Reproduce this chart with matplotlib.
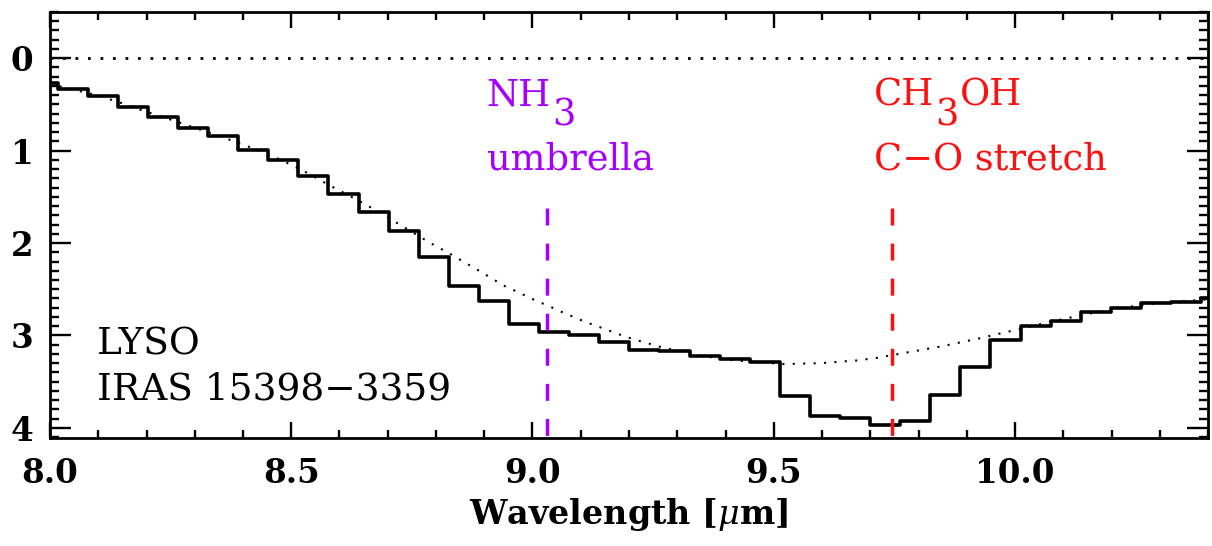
import matplotlib
matplotlib.use("Agg")
import matplotlib.pyplot as plt
from matplotlib.ticker import MultipleLocator, FormatStrFormatter

plt.rcParams['font.family'] = ['DejaVu Serif']
plt.rcParams['mathtext.fontset'] = 'dejavuserif'

# Optical depth spectrum (bin centres in micron, binned depth)
wave = [7.985, 8.047, 8.110, 8.172, 8.234, 8.297, 8.359, 8.421, 8.484, 8.546,
        8.608, 8.671, 8.733, 8.796, 8.858, 8.920, 8.983, 9.045, 9.107, 9.170,
        9.232, 9.294, 9.357, 9.419, 9.481, 9.544, 9.606, 9.668, 9.731, 9.793,
        9.855, 9.918, 9.980, 10.043, 10.105, 10.167, 10.230, 10.292, 10.354, 10.417]
depth = [0.27, 0.33, 0.41, 0.53, 0.64, 0.75, 0.845, 0.99, 1.10, 1.28,
         1.47, 1.66, 1.87, 2.15, 2.46, 2.63, 2.88, 2.96, 2.99, 3.07,
         3.16, 3.17, 3.22, 3.26, 3.29, 3.66, 3.87, 3.89, 3.97, 3.93,
         3.64, 3.34, 3.05, 2.90, 2.84, 2.75, 2.70, 2.65, 2.64, 2.60]

# Continuum / silicate model (dotted curve)
cont_wave = [8.000, 8.024, 8.097, 8.145, 8.194, 8.242, 8.287, 8.339, 8.408, 8.474,
             8.522, 8.588, 8.650, 8.699, 8.750, 8.785, 8.830, 8.899, 8.940, 8.965,
             9.010, 9.033, 9.058, 9.103, 9.196, 9.269, 9.349, 9.418, 9.521, 9.598,
             9.674, 9.718, 9.770, 9.846, 9.919, 9.985, 10.019, 10.075, 10.158, 10.220,
             10.282, 10.344, 10.402]
cont_depth = [0.26, 0.31, 0.40, 0.48, 0.57, 0.65, 0.73, 0.82, 0.95, 1.09,
              1.21, 1.40, 1.57, 1.72, 1.88, 1.99, 2.12, 2.33, 2.46, 2.52,
              2.63, 2.68, 2.74, 2.84, 3.02, 3.13, 3.22, 3.27, 3.31, 3.30,
              3.27, 3.24, 3.19, 3.12, 3.04, 2.96, 2.92, 2.85, 2.76, 2.70,
              2.66, 2.63, 2.61]

# Ice feature markers
NH3_WAVE = 9.03
CH3OH_WAVE = 9.745
MARK_TOP = 1.62

XMIN, XMAX = 8.0, 10.4
YTOP, YBOT = -0.5, 4.11

PURPLE = '#A500FF'
RED = '#FF1010'

fig = plt.figure(figsize=(12.12, 5.46), dpi=100)
ax = fig.add_axes([50 / 1212, 108 / 546, 1158 / 1212, 426 / 546])

ax.step(wave, depth, where='mid', color='black', lw=2.6)
ax.plot(cont_wave, cont_depth, color='black', lw=1.5, ls=(0, (1, 4)))
ax.axhline(0, color='black', lw=2.0, ls=(0, (1, 3.5)))

ax.vlines(NH3_WAVE, MARK_TOP, YBOT, color=PURPLE, lw=2.5, linestyles=[(0, (4.9, 5.2))])
ax.vlines(CH3OH_WAVE, MARK_TOP, YBOT, color=RED, lw=2.5, linestyles=[(0, (4.9, 5.2))])

ax.set_xlim(XMIN, XMAX)
ax.set_ylim(YBOT, YTOP)

# labels for the features; subscripts drawn at full size like the original
fs = 26.5
t_nh = ax.text(8.905, 0.515, 'NH', color=PURPLE, fontsize=fs, va='baseline')
ax.annotate('3', xy=(1, 0), xycoords=t_nh, xytext=(1, -20), textcoords='offset pixels',
            color=PURPLE, fontsize=fs, va='bottom', ha='left')
ax.text(8.905, 1.208, 'umbrella', color=PURPLE, fontsize=fs, va='baseline')

t_ch = ax.text(9.707, 0.515, 'CH', color=RED, fontsize=fs, va='baseline')
t_3 = ax.annotate('3', xy=(1, 0), xycoords=t_ch, xytext=(1, -20), textcoords='offset pixels',
                  color=RED, fontsize=fs, va='bottom', ha='left')
ax.annotate('OH', xy=(1, 0), xycoords=(t_3, t_ch), xytext=(2, 0), textcoords='offset pixels',
            color=RED, fontsize=fs, va='bottom', ha='left')
ax.text(9.707, 1.208, 'C\u2212O stretch', color=RED, fontsize=fs, va='baseline')

ax.text(8.0975, 3.204, 'LYSO', color='black', fontsize=27, va='baseline')
ax.text(8.0975, 3.689, 'IRAS 15398\u22123359', color='black', fontsize=27, va='baseline')

ax.set_xlabel(r'Wavelength [$\mu$m]', fontsize=24, labelpad=4, fontweight='bold')

ax.xaxis.set_major_locator(MultipleLocator(0.5))
ax.xaxis.set_minor_locator(MultipleLocator(0.1))
ax.xaxis.set_major_formatter(FormatStrFormatter('%.1f'))
ax.yaxis.set_major_locator(MultipleLocator(1))
ax.yaxis.set_minor_locator(MultipleLocator(0.1))

ax.tick_params(axis='both', which='both', direction='in', top=True, right=True,
               width=1.7, labelsize=23.5)
ax.tick_params(axis='x', which='major', length=11.5, pad=14)
ax.tick_params(axis='x', which='minor', length=5.5)
ax.tick_params(axis='y', which='major', length=15, pad=12)
ax.tick_params(axis='y', which='minor', length=6.5)
for lab in ax.get_xticklabels() + ax.get_yticklabels():
    lab.set_fontweight('bold')
for s in ax.spines.values():
    s.set_linewidth(2.0)

fig.savefig('out.png', dpi=100)
